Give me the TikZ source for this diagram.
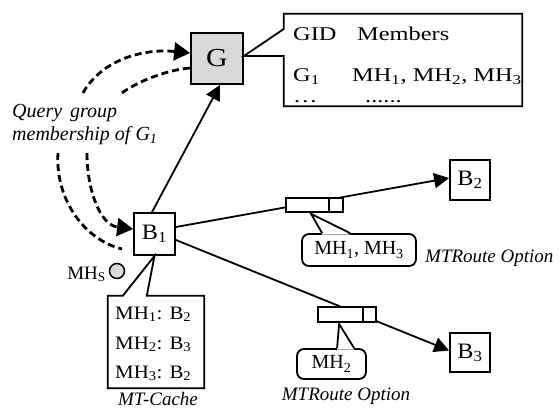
\documentclass[tikz,border=0pt]{standalone}
\usepackage{fontspec}
\setmainfont{Liberation Serif}
\usetikzlibrary{arrows.meta,calc}
% horizontally widened text and font size helpers
\newcommand\hstretch[2]{\scalebox{#1}[1]{#2}}
\newcommand\fsz[1]{\fontsize{#1}{#1}\selectfont}
\newcommand\sub[1]{\textsubscript{#1}}

\begin{document}
\begin{tikzpicture}[x=1pt,y=-1pt,
  box/.style={draw, line width=1.8pt, inner sep=0pt, fill=white},
  conn/.style={line width=1.8pt, line join=miter},
  bigtip/.style={-{Triangle[length=15pt,width=15pt]}},
  query/.style={line width=2.8pt, dash pattern=on 7pt off 4pt},
  qtip/.style={-{Triangle[length=16pt,width=18pt]}},
  tbltxt/.style={inner sep=0pt, anchor=base west, font=\fsz{19.5}},
  celltxt/.style={inner sep=0pt, anchor=base west, font=\fsz{19}},
  itl/.style={inner sep=0pt, font=\fsz{20}\itshape},
  bubble/.style={draw, line width=1.8pt, rounded corners=7pt, inner sep=0pt, fill=white, font=\fsz{20}},
  packet/.style={draw, line width=1.8pt, inner sep=0pt, fill=white},
]
\useasboundingbox (0,0) rectangle (560,410);

% group server and its membership table
\node[box, fill=gray!30, minimum width=52pt, minimum height=51pt] (G) at (217,58.5)
  {\fsz{26}\hstretch{1.15}{G}};
\node[minimum width=238pt, minimum height=92pt, inner sep=0pt] (tbl) at (403,60) {};
\draw[conn] (tbl.north west) -- (tbl.north east) -- (tbl.south east) -- (tbl.south west)
  -- ($(tbl.west)+(0,-4)$) -- ($(G.east)+(0,-2.5)$) -- ($(tbl.west)+(0,-31)$) -- cycle;
\node[tbltxt] (gid) at (293,40) {\hstretch{1.25}{GID}};
\node[tbltxt] (mem) at (357,40) {\hstretch{1.25}{Members}};
\node[tbltxt] (g1) at (293,81) {\hstretch{1.25}{G\sub{1}}};
\node[tbltxt] (mhl) at (352,81) {\hstretch{1.25}{MH\sub{1}, MH\sub{2}, MH\sub{3}}};
\node[tbltxt] (dt1) at (293,102) {\hstretch{1.25}{\ldots}};
\node[tbltxt] (dt2) at (365,102) {\hstretch{1.25}{......}};

% routers
\node[box, minimum width=41pt, minimum height=42pt] (B1) at (154.5,234)
  {\fsz{22}\hstretch{1.1}{B\sub{1}}};
\node[box, minimum width=40pt, minimum height=40pt] (B2) at (470,180)
  {\fsz{22}\hstretch{1.1}{B\sub{2}}};
\node[box, minimum width=40pt, minimum height=39pt] (B3) at (470,352.5)
  {\fsz{22}\hstretch{1.1}{B\sub{3}}};

% mobile host
\node[circle, draw, line width=1.5pt, fill=gray!30, minimum size=15pt, inner sep=0pt] (mhs) at (117,271) {};
\node[inner sep=0pt, anchor=base east, font=\fsz{19}] (mhsl) at (106,279) {MH\sub{S}};

% query label and dashed query / reply paths
\node[itl, anchor=base west] (q1) at (12,117) {Query\hspace{8pt}group};
\node[itl, anchor=base west] (q2) at (12,140) {membership of G\sub{1}};
\coordinate (qa) at (83,93);
\coordinate (qb) at (122,93);
\coordinate (qc) at (58,153);
\coordinate (qd) at (87,153);
\draw[query, qtip] (qa) .. controls (100,62) and (140,48) .. ($(G.west)+(0,-5.5)$);
\draw[query] (qb) .. controls (135,83) and (165,70) .. ($(G.west)+(0,9.5)$);
\draw[query] (qc) .. controls (55,200) and (85,240) .. ($(mhs)+(5,-22)$);
\draw[query, qtip] (qd) .. controls (87,190) and (100,225) .. ($(B1.west)+(0,-5)$);

% B1 to G
\draw[conn, bigtip] ($(B1.north)+(-2.5,0)$) -- ($(G.south)+(3,0)$);

% MT-Cache
\node[minimum width=96pt, minimum height=92pt, inner sep=0pt] (mtc) at (156,342) {};
\draw[conn] (mtc.north west) -- ($(mtc.north west)+(15,0)$) -- (B1.south)
  -- ($(mtc.north west)+(39,0)$) -- (mtc.north east) -- (mtc.south east) -- (mtc.south west) -- cycle;
\node[celltxt] (c1) at (115,319) {\hstretch{1.1}{MH\sub{1}: B\sub{2}}};
\node[celltxt] (c2) at (115,349) {\hstretch{1.1}{MH\sub{2}: B\sub{3}}};
\node[celltxt] (c3) at (115,378) {\hstretch{1.1}{MH\sub{3}: B\sub{2}}};
\node[itl, font=\fsz{19}\itshape, anchor=base] (mtcl) at (158,405) {MT-Cache};

% routes from B1 to B2 and B3
\draw[conn, bigtip] ($(B1.east)+(0,-7)$) -- ($(B2.west)+(0,-2)$);
\draw[conn, bigtip] ($(B1.east)+(0,6)$) -- ($(B3.west)+(0,-2)$);

% MTRoute option bubbles
\node[bubble, minimum width=114pt, minimum height=32pt] (cb1) at (359,250) {MH\sub{1}, MH\sub{3}};
\node[bubble, minimum width=69pt, minimum height=30pt] (cb2) at (331.5,364) {MH\sub{2}};

% packets carrying the option
\node[packet, minimum width=57pt, minimum height=14pt] (p1) at (314.5,205) {};
\draw[line width=1.8pt] ($(p1.north east)+(-15,0)$) -- ($(p1.south east)+(-15,0)$);
\node[packet, minimum width=58pt, minimum height=15pt] (p2) at (347,314.5) {};
\draw[line width=1.8pt] ($(p2.north east)+(-14,0)$) -- ($(p2.south east)+(-14,0)$);

% bubble pointers
\coordinate (t1) at ($(p1.south west)+(26,1)$);
\coordinate (t2) at ($(p2.south west)+(22,1)$);
\fill[white] ($(cb1.north west)+(21,1.5)$) -- (t1) -- ($(cb1.north west)+(49,1.5)$) -- cycle;
\draw[conn] ($(cb1.north west)+(21,0)$) -- (t1) -- ($(cb1.north west)+(49,0)$);
\fill[white] ($(cb2.north west)+(41,1.5)$) -- (t2) -- ($(cb2.north west)+(58,1.5)$) -- cycle;
\draw[conn] ($(cb2.north west)+(41,0)$) -- (t2) -- ($(cb2.north west)+(58,0)$);

\node[itl, font=\fsz{19}\itshape, anchor=base west] (mr1) at (425,262) {MTRoute Option};
\node[itl, font=\fsz{19}\itshape, anchor=base] (mr2) at (346,400) {MTRoute Option};
\end{tikzpicture}
\end{document}
